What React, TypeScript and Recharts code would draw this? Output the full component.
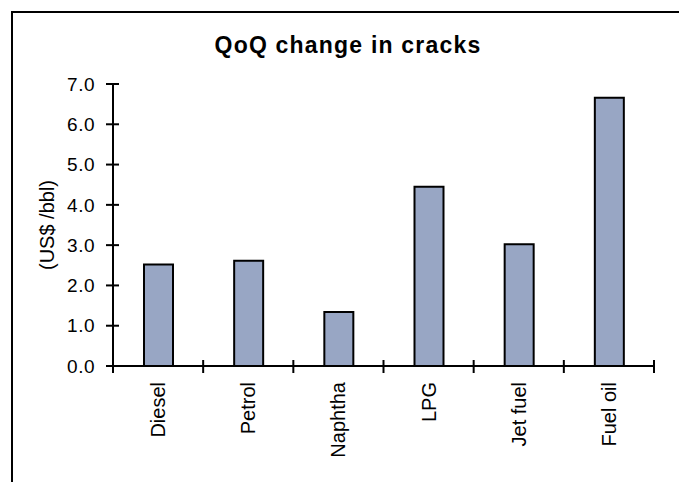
import { BarChart, Bar, XAxis, YAxis } from 'recharts';

const categories = ['Diesel', 'Petrol', 'Naphtha', 'LPG', 'Jet fuel', 'Fuel oil'];
const crackChange = [2.52, 2.61, 1.34, 4.45, 3.02, 6.66];
const yTicks = [0, 1, 2, 3, 4, 5, 6, 7];

const data = categories.map((name, i) => ({ name, change: crackChange[i] }));

const W = 679;
const H = 482;
const X_AXIS_H = 30;
const margin = { top: 84, right: 25, bottom: 116 - X_AXIS_H, left: 0 };
const Y_AXIS_W = 113;
const bandW = (W - margin.left - margin.right - Y_AXIS_W) / categories.length;
const FONT = 'Arial, "Liberation Sans", sans-serif';

// y ticks cross the axis line, labels sit to the left
const YTick = ({ x, y, payload }: any) => (
  <g>
    <line x1={x - 7} x2={x + 6} y1={y} y2={y} stroke="#000" strokeWidth={2} />
    <text x={x - 18} y={y} dy="0.35em" textAnchor="end" fontSize={19} letterSpacing={0.5} fontFamily={FONT} fill="#000">
      {Number(payload.value).toFixed(1)}
    </text>
  </g>
);

// category ticks go on the band edges, names run upwards under each bar
const XTick = ({ x, y, payload, index }: any) => (
  <g>
    {index === 0 && (
      <line x1={x - bandW / 2} x2={x - bandW / 2} y1={y - 6} y2={y + 7} stroke="#000" strokeWidth={2} />
    )}
    <line x1={x + bandW / 2} x2={x + bandW / 2} y1={y - 6} y2={y + 7} stroke="#000" strokeWidth={2} />
    <text
      x={x}
      y={y + 16}
      dy="0.35em"
      transform={`rotate(-90, ${x}, ${y + 16})`}
      textAnchor="end"
      fontSize={20}
      fontFamily={FONT}
      fill="#000"
    >
      {payload.value}
    </text>
  </g>
);

const YLabel = ({ viewBox }: any) => {
  const cx = viewBox.x + 47;
  const cy = viewBox.y + viewBox.height / 2;
  return (
    <text x={cx} y={cy} dy="0.35em" transform={`rotate(-90, ${cx}, ${cy})`} textAnchor="middle" fontSize={20} fontFamily={FONT} fill="#000">
      (US$ /bbl)
    </text>
  );
};

export default function App() {
  return (
    <div style={{ position: 'absolute', left: 0, top: 0, width: W, height: H, overflow: 'hidden', background: '#fff' }}>
      <BarChart width={W} height={H} data={data} margin={margin}>
        <XAxis
          dataKey="name"
          height={X_AXIS_H}
          axisLine={{ stroke: '#000', strokeWidth: 2 }}
          tickLine={false}
          tickSize={0}
          tickMargin={0}
          tick={<XTick />}
          interval={0}
        />
        <YAxis
          width={Y_AXIS_W}
          domain={[0, 7]}
          ticks={yTicks}
          axisLine={{ stroke: '#000', strokeWidth: 2 }}
          tickLine={false}
          tickSize={0}
          tickMargin={0}
          tick={<YTick />}
          interval={0}
          label={<YLabel />}
        />
        <Bar dataKey="change" fill="#98a6c4" stroke="#000" strokeWidth={2} barSize={29} isAnimationActive={false} />
      </BarChart>
      <svg width={W} height={H} style={{ position: 'absolute', left: 0, top: 0, pointerEvents: 'none' }}>
        <line x1={11} x2={W} y1={12} y2={12} stroke="#000" strokeWidth={2} />
        <line x1={12} x2={12} y1={11} y2={H} stroke="#000" strokeWidth={2} />
        <text x={348} y={53} textAnchor="middle" fontSize={23} fontWeight="bold" letterSpacing={1.2} fontFamily={FONT} fill="#000">
          QoQ change in cracks
        </text>
      </svg>
    </div>
  );
}
